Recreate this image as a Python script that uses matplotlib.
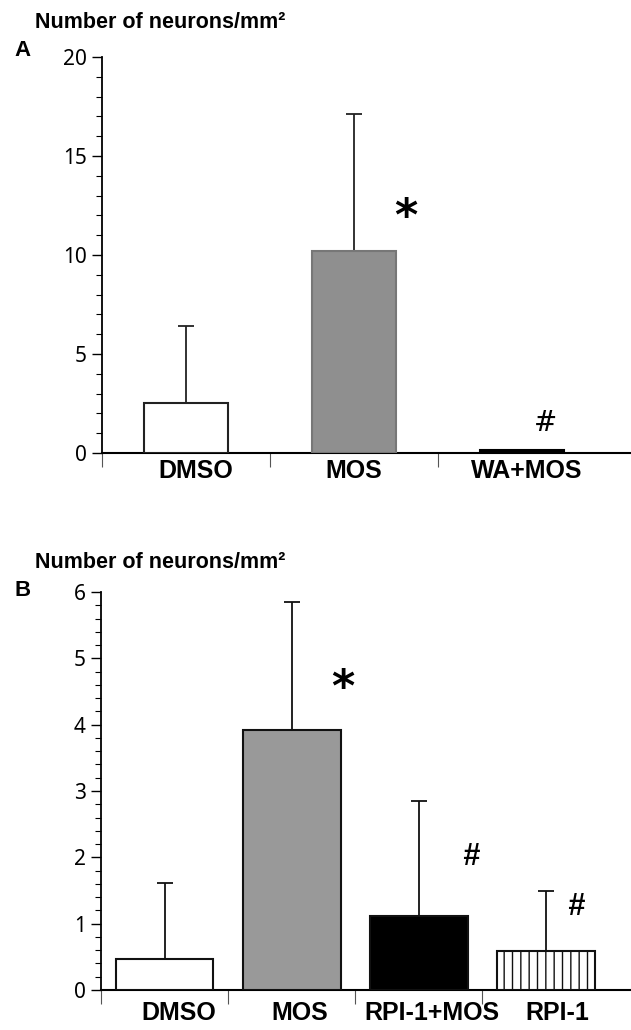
import numpy as np
import matplotlib
matplotlib.use("Agg")
import matplotlib.pyplot as plt
from matplotlib.ticker import MultipleLocator, FixedLocator

plt.rcParams['font.family'] = ['Liberation Sans', 'DejaVu Sans']
plt.rcParams['hatch.linewidth'] = 1.0

# Panel A data
cats_a = ["DMSO", "MOS", "WA+MOS"]
vals_a = [2.5, 10.2, 0.15]
err_a = [3.9, 6.9, 0.0]
colors_a = ["white", "#8f8f8f", "black"]
edges_a = ["#222222", "#777777", "black"]
label_shift_a = [0.06, 0.0, 0.03]

# Panel B data
cats_b = ["DMSO", "MOS", "RPI-1+MOS", "RPI-1"]
vals_b = [0.47, 3.92, 1.12, 0.59]
err_b = [1.15, 1.93, 1.73, 0.91]
colors_b = ["white", "#999999", "black", "white"]
hatch_b = [None, None, None, "||"]
label_shift_b = [0.11, 0.065, 0.1, 0.09]

# significance marks (label, x, y)
marks_a = [("*", 1.31, 11.9), ("#", 2.14, 1.5)]
marks_b = [("*", 1.405, 4.55), ("#", 2.41, 2.0), ("#", 3.23, 1.25)]

W, H = 631, 1030
fig = plt.figure(figsize=(W / 100, H / 100), dpi=100)


def fx(px):
    return px / W


def fy(py):
    return 1 - py / H


def style_axes(ax, n, xmax, ymax, major, minor, pad):
    for s in ["top", "right"]:
        ax.spines[s].set_visible(False)
    ax.spines["left"].set_linewidth(1.3)
    ax.spines["bottom"].set_linewidth(1.5)
    ax.set_xlim(-0.5, xmax)
    ax.set_ylim(0, ymax)
    ax.yaxis.set_major_locator(MultipleLocator(major))
    ax.yaxis.set_minor_locator(MultipleLocator(minor))
    ax.tick_params(axis="y", which="major", length=7, width=1, labelsize=15, pad=4)
    ax.tick_params(axis="y", which="minor", length=4, width=0.8)
    # boundary ticks (major) and category labels (minor, no tick)
    ax.xaxis.set_major_locator(FixedLocator(np.arange(n) - 0.5))
    ax.xaxis.set_major_formatter(plt.NullFormatter())
    ax.tick_params(axis="x", which="major", length=10, width=0.8, color="#555555")
    ax.tick_params(axis="x", which="minor", length=0, labelsize=18, pad=pad)
    for lab in ax.get_yticklabels():
        lab.set_fontfamily("Noto Sans")


# ---- Panel A ----
ax1 = fig.add_axes([fx(102), fy(453), fx(631 - 102), fy(57) - fy(453)])
xa = np.arange(len(cats_a))
ax1.bar(xa, vals_a, width=0.5, color=colors_a, edgecolor=edges_a, linewidth=1.5, zorder=3)
for i in range(len(cats_a)):
    if err_a[i] > 0:
        ax1.errorbar(xa[i], vals_a[i], yerr=[[0], [err_a[i]]], fmt="none", ecolor="#222222",
                     elinewidth=1.3, capsize=6, capthick=1.3, zorder=2)
style_axes(ax1, len(cats_a), 2.65, 20, 5, 1, 4)
ax1.set_xticks(xa + np.array(label_shift_a), minor=True)
ax1.set_xticklabels(cats_a, minor=True, fontweight="bold")
ax1.text(marks_a[0][1], marks_a[0][2], marks_a[0][0], fontsize=32, fontweight="bold",
         family="DejaVu Sans", ha="center", va="center")
ax1.text(marks_a[1][1], marks_a[1][2], marks_a[1][0], fontsize=20, family="DejaVu Serif",
         ha="center", va="center")

fig.text(fx(35), fy(22), "Number of neurons/mm²", fontsize=15.5, fontweight="bold", va="center")
fig.text(fx(14), fy(50), "A", fontsize=16, fontweight="bold", va="center")

# ---- Panel B ----
ax2 = fig.add_axes([fx(101), fy(990), fx(631 - 101), fy(592) - fy(990)])
xb = np.arange(len(cats_b))
for i in range(len(cats_b)):
    ax2.bar(xb[i], vals_b[i], width=0.77, color=colors_b[i], edgecolor="#111111",
            linewidth=1.5, hatch=hatch_b[i], zorder=3)
    ax2.errorbar(xb[i], vals_b[i], yerr=[[0], [err_b[i]]], fmt="none", ecolor="#111111",
                 elinewidth=1.3, capsize=6, capthick=1.3, zorder=2)
style_axes(ax2, len(cats_b), 3.67, 6, 1, 0.2, 8)
ax2.set_xticks(xb + np.array(label_shift_b), minor=True)
ax2.set_xticklabels(cats_b, minor=True, fontweight="bold")
ax2.text(marks_b[0][1], marks_b[0][2], marks_b[0][0], fontsize=32, fontweight="bold",
         family="DejaVu Sans", ha="center", va="center")
for m in marks_b[1:]:
    ax2.text(m[1], m[2], m[0], fontsize=22, fontweight="bold", style="italic",
             ha="center", va="center")

fig.text(fx(35), fy(562), "Number of neurons/mm²", fontsize=15.5, fontweight="bold", va="center")
fig.text(fx(14), fy(590), "B", fontsize=16, fontweight="bold", va="center")

fig.savefig("out.png", dpi=100)
